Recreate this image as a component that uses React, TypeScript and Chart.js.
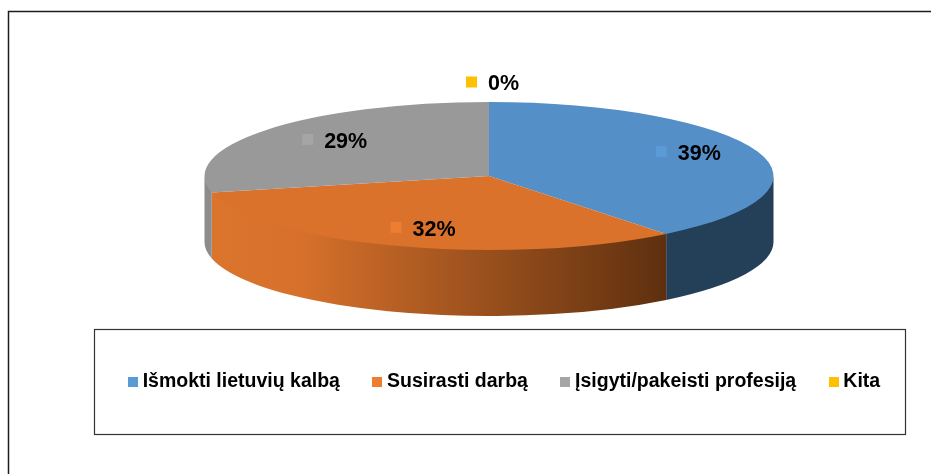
import React, { useEffect, useRef } from "react";
import { Chart, registerables } from "chart.js";

Chart.register(...registerables);

const categories = ["Išmokti lietuvių kalbą", "Susirasti darbą", "Įsigyti/pakeisti profesiją", "Kita"];
const shares = [39.3, 32.1, 28.6, 0];
const topColors = ["#548FC8", "#DA722C", "#999999", "#FFC000"];
const keyColors = ["#5B9BD5", "#ED7D31", "#A5A5A5", "#FFC000"];
const wallColors = ["#243F58", "#DB742C", "#8C8C8C", "#FFC000"];

const FONT = "'Liberation Sans', Arial, sans-serif";
const LEGEND_FONT_SIZE = 19.5;
const PIE = { cx: 489, cy: 176, rx: 284.5, ry: 74, depth: 66, radius: 200 };
const LABEL_FACTOR = 0.75;
const labelNudge = [
  { x: -12.7, y: -4 },
  { x: -6, y: 1 },
  { x: 2.1, y: 0 },
  { x: -1, y: -36.5 },
];

const pie3d = {
  id: "pie3d",
  beforeDraw(chart: any) {
    const { ctx } = chart;
    ctx.save();
    ctx.strokeStyle = "#1c1c1c";
    ctx.lineWidth = 1.5;
    ctx.beginPath();
    ctx.moveTo(931, 11.5);
    ctx.lineTo(8.5, 11.5);
    ctx.lineTo(8.5, 474);
    ctx.stroke();
    ctx.lineWidth = 1.2;
    ctx.strokeStyle = "#333333";
    ctx.strokeRect(94.5, 329.5, 811, 105);
    ctx.restore();
    const legend = chart.legend;
    legend.left = 82;
    legend.right = 931;
    legend.top = 382 - legend.options.labels.padding - LEGEND_FONT_SIZE / 2;
    legend.bottom = 474;
  },
  beforeDatasetsDraw(chart: any) {
    const { ctx } = chart;
    const arcs = chart.getDatasetMeta(0).data;
    ctx.save();
    arcs.forEach((arc: any, i: number) => {
      const a = Math.max(arc.startAngle, 0);
      const b = Math.min(arc.endAngle, Math.PI);
      if (b <= a) return;
      ctx.beginPath();
      ctx.ellipse(PIE.cx, PIE.cy - 1, PIE.rx, PIE.ry, 0, a, b);
      ctx.ellipse(PIE.cx, PIE.cy + PIE.depth, PIE.rx, PIE.ry, 0, b, a, true);
      ctx.closePath();
      if (i === 1) {
        const xLeft = PIE.cx + PIE.rx * Math.cos(b);
        const xRight = PIE.cx + PIE.rx * Math.cos(a);
        const g = ctx.createLinearGradient(xLeft, 0, xRight, 0);
        g.addColorStop(0, "#DB742C");
        g.addColorStop(0.2, "#D6702B");
        g.addColorStop(1, "#5E300F");
        ctx.fillStyle = g;
      } else {
        ctx.fillStyle = wallColors[i];
      }
      ctx.fill();
    });
    ctx.restore();
    const first = arcs[0];
    ctx.save();
    ctx.translate(PIE.cx, PIE.cy);
    ctx.scale(PIE.rx / PIE.radius, PIE.ry / PIE.radius);
    ctx.translate(-first.x, -first.y);
  },
  afterDatasetsDraw(chart: any) {
    const { ctx } = chart;
    ctx.restore();
    const arcs = chart.getDatasetMeta(0).data;
    const values = chart.data.datasets[0].data;
    ctx.save();
    ctx.font = `bold 21.5px ${FONT}`;
    ctx.textBaseline = "middle";
    ctx.textAlign = "left";
    arcs.forEach((arc: any, i: number) => {
      const mid = (arc.startAngle + arc.endAngle) / 2;
      const x = PIE.cx + LABEL_FACTOR * PIE.rx * Math.cos(mid) + labelNudge[i].x;
      const y = PIE.cy + LABEL_FACTOR * PIE.ry * Math.sin(mid) + labelNudge[i].y;
      ctx.fillStyle = keyColors[i];
      ctx.fillRect(x - 22, y - 7.5, 11, 11);
      ctx.fillStyle = "#000000";
      ctx.fillText(`${Math.round(values[i])}%`, x, y + 0.5);
    });
    ctx.restore();
  },
};

function legendMarker(color: string) {
  const c = document.createElement("canvas");
  c.width = 10;
  c.height = 10;
  const g = c.getContext("2d")!;
  g.fillStyle = color;
  g.fillRect(0, 0, 10, 10);
  return c;
}

export default function App() {
  const ref = useRef<HTMLCanvasElement>(null);
  useEffect(() => {
    const chart = new Chart(ref.current!, {
      type: "pie",
      data: {
        labels: categories,
        datasets: [
          {
            data: shares,
            backgroundColor: topColors,
            borderWidth: 0,
            radius: PIE.radius,
          },
        ],
      },
      options: {
        responsive: false,
        animation: false,
        plugins: {
          tooltip: { enabled: false },
          legend: {
            display: true,
            position: "bottom",
            labels: {
              usePointStyle: true,
              pointStyleWidth: 0.1,
              boxHeight: 10,
              padding: 37.3,
              color: "#000000",
              font: { family: FONT, size: LEGEND_FONT_SIZE, weight: "bold" },
              generateLabels(c: any) {
                const items = Chart.overrides.pie.plugins.legend.labels.generateLabels(c);
                return items.map((it: any, i: number) => ({
                  ...it,
                  pointStyle: legendMarker(keyColors[i]),
                  lineWidth: 0,
                }));
              },
            },
          },
        },
      } as any,
      plugins: [pie3d],
    });
    return () => chart.destroy();
  }, []);
  return (
    <canvas
      ref={ref}
      width={931}
      height={474}
      style={{ position: "absolute", left: 0, top: 0, display: "block" }}
    />
  );
}
